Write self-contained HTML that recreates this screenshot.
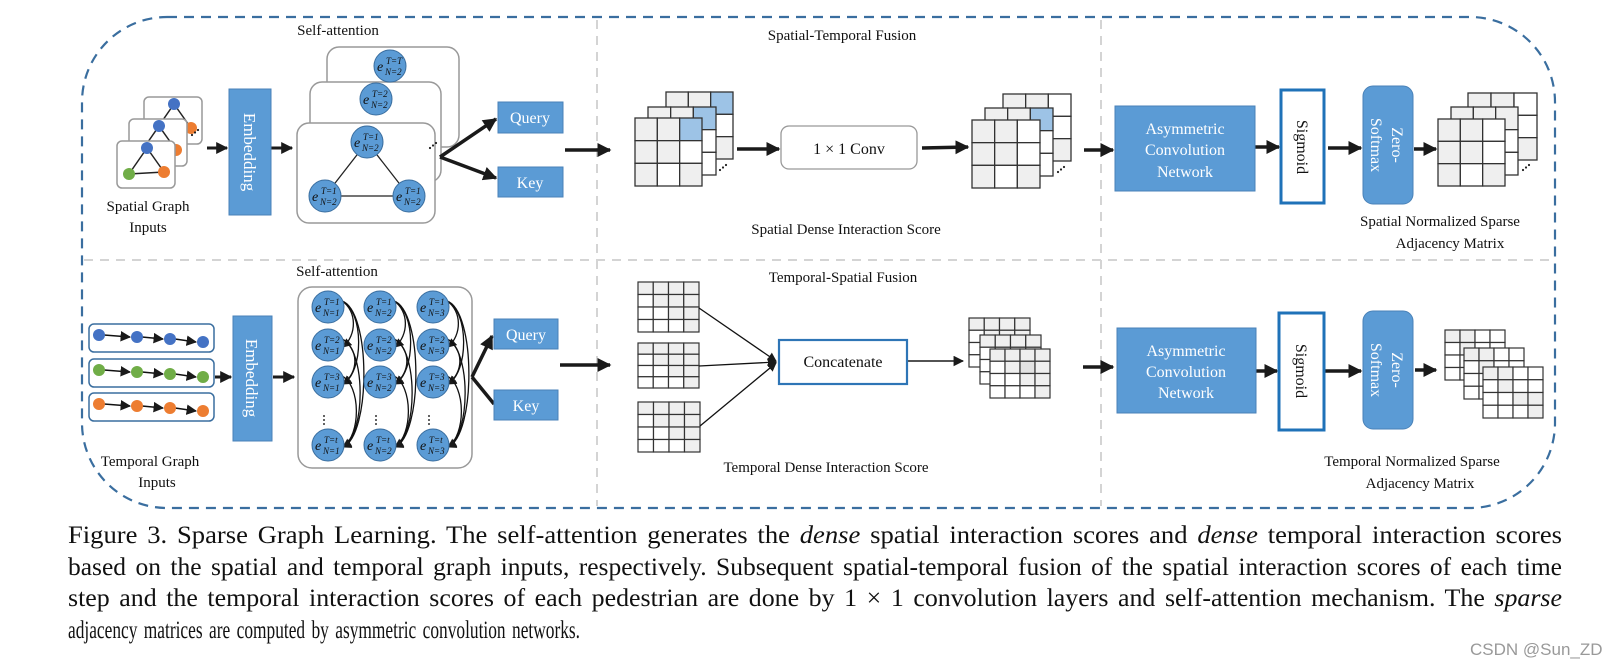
<!DOCTYPE html>
<html><head><meta charset="utf-8"><style>
html,body{margin:0;padding:0;background:#fff;}
svg{display:block;}
text{font-family:"Liberation Serif",serif;fill:#111;}
</style></head><body>
<svg id="s" width="1624" height="669" viewBox="0 0 1624 669" xmlns="http://www.w3.org/2000/svg">
<defs>
<marker id="ah" viewBox="0 0 10 10" refX="9" refY="5" markerWidth="4" markerHeight="4" orient="auto"><path d="M0,0 L10,5 L0,10 z" fill="#1a1a1a"/></marker>
<marker id="ah2" viewBox="0 0 10 10" refX="9" refY="5" markerWidth="7" markerHeight="7" orient="auto"><path d="M0,0 L10,5 L0,10 z" fill="#1a1a1a"/></marker>
</defs>
<rect x="82" y="17" width="1473" height="491" rx="85" fill="none" stroke="#3a6e9f" stroke-width="2.2" stroke-dasharray="10,7"/>
<line x1="84" y1="260" x2="1553" y2="260" stroke="#d4d4d4" stroke-width="2" stroke-dasharray="9,7"/>
<line x1="597" y1="20" x2="597" y2="506" stroke="#d4d4d4" stroke-width="2" stroke-dasharray="9,7"/>
<line x1="1101" y1="20" x2="1101" y2="506" stroke="#d4d4d4" stroke-width="2" stroke-dasharray="9,7"/>

<g id="g"></g>

<g font-size="15">
<text x="338" y="35" text-anchor="middle">Self-attention</text>
<text x="148" y="211" text-anchor="middle">Spatial Graph</text>
<text x="148" y="232" text-anchor="middle">Inputs</text>
<text x="842" y="40" text-anchor="middle">Spatial-Temporal Fusion</text>
<text x="846" y="234" text-anchor="middle">Spatial Dense Interaction Score</text>
<text x="1440" y="226" text-anchor="middle">Spatial Normalized Sparse</text>
<text x="1450" y="248" text-anchor="middle">Adjacency Matrix</text>
<text x="337" y="276" text-anchor="middle">Self-attention</text>
<text x="150" y="466" text-anchor="middle">Temporal Graph</text>
<text x="157" y="487" text-anchor="middle">Inputs</text>
<text x="843" y="282" text-anchor="middle">Temporal-Spatial Fusion</text>
<text x="826" y="472" text-anchor="middle">Temporal Dense Interaction Score</text>
<text x="1412" y="466" text-anchor="middle">Temporal Normalized Sparse</text>
<text x="1420" y="488" text-anchor="middle">Adjacency Matrix</text>
</g>

<rect x="229" y="89" width="42" height="126" fill="#5b9bd5" stroke="#4a82b8"/>
<text transform="translate(244,152) rotate(90)" text-anchor="middle" font-size="17" style="fill:#fff">Embedding</text>
<rect x="233" y="316" width="39" height="125" fill="#5b9bd5" stroke="#4a82b8"/>
<text transform="translate(246,378) rotate(90)" text-anchor="middle" font-size="17" style="fill:#fff">Embedding</text>

<rect x="498" y="102" width="65" height="31" fill="#5b9bd5" stroke="#4a82b8"/>
<text x="530" y="123" text-anchor="middle" font-size="16" style="fill:#fff">Query</text>
<rect x="498" y="167" width="65" height="30" fill="#5b9bd5" stroke="#4a82b8"/>
<text x="530" y="188" text-anchor="middle" font-size="16" style="fill:#fff">Key</text>
<rect x="494" y="319" width="64" height="30" fill="#5b9bd5" stroke="#4a82b8"/>
<text x="526" y="340" text-anchor="middle" font-size="16" style="fill:#fff">Query</text>
<rect x="494" y="390" width="64" height="30" fill="#5b9bd5" stroke="#4a82b8"/>
<text x="526" y="411" text-anchor="middle" font-size="16" style="fill:#fff">Key</text>

<rect x="781" y="126" width="136" height="43" rx="8" fill="#fff" stroke="#999" stroke-width="1.3"/>
<text x="849" y="154" text-anchor="middle" font-size="16">1 × 1 Conv</text>
<rect x="779" y="340" width="128" height="44" fill="#fff" stroke="#2e75b6" stroke-width="2.2"/>
<text x="843" y="367" text-anchor="middle" font-size="16">Concatenate</text>

<rect x="1115" y="106" width="140" height="85" fill="#5b9bd5" stroke="#4a82b8"/>
<g font-size="16" text-anchor="middle"><text x="1185" y="134" style="fill:#fff">Asymmetric</text><text x="1185" y="155" style="fill:#fff">Convolution</text><text x="1185" y="177" style="fill:#fff">Network</text></g>
<rect x="1117" y="328" width="139" height="85" fill="#5b9bd5" stroke="#4a82b8"/>
<g font-size="16" text-anchor="middle"><text x="1186" y="356" style="fill:#fff">Asymmetric</text><text x="1186" y="377" style="fill:#fff">Convolution</text><text x="1186" y="398" style="fill:#fff">Network</text></g>

<rect x="1281" y="90" width="43" height="113" fill="#fff" stroke="#1f72b8" stroke-width="3"/>
<text transform="translate(1297,147) rotate(90)" text-anchor="middle" font-size="16">Sigmoid</text>
<rect x="1279" y="313" width="45" height="117" fill="#fff" stroke="#1f72b8" stroke-width="3"/>
<text transform="translate(1296,371) rotate(90)" text-anchor="middle" font-size="16">Sigmoid</text>

<rect x="1363" y="86" width="50" height="118" rx="10" fill="#5b9bd5" stroke="#4a82b8"/>
<text transform="translate(1392,145) rotate(90)" text-anchor="middle" font-size="16" style="fill:#fff">Zero-</text>
<text transform="translate(1371,145) rotate(90)" text-anchor="middle" font-size="16" style="fill:#fff">Softmax</text>
<rect x="1363" y="311" width="50" height="118" rx="10" fill="#5b9bd5" stroke="#4a82b8"/>
<text transform="translate(1392,370) rotate(90)" text-anchor="middle" font-size="16" style="fill:#fff">Zero-</text>
<text transform="translate(1371,370) rotate(90)" text-anchor="middle" font-size="16" style="fill:#fff">Softmax</text>

<g font-size="25" style="word-spacing:3px">
<text x="68" y="543" textLength="1494" lengthAdjust="spacingAndGlyphs">Figure 3. Sparse Graph Learning. The self-attention generates the <tspan font-style="italic">dense</tspan> spatial interaction scores and <tspan font-style="italic">dense</tspan> temporal interaction scores</text>
<text x="68" y="575" textLength="1494" lengthAdjust="spacingAndGlyphs">based on the spatial and temporal graph inputs, respectively. Subsequent spatial-temporal fusion of the spatial interaction scores of each time</text>
<text x="68" y="606" textLength="1494" lengthAdjust="spacingAndGlyphs">step and the temporal interaction scores of each pedestrian are done by 1 × 1 convolution layers and self-attention mechanism. The <tspan font-style="italic">sparse</tspan></text>
<text x="68" y="638" textLength="512" lengthAdjust="spacingAndGlyphs">adjacency matrices are computed by asymmetric convolution networks.</text>
</g>
<text x="1470" y="655" font-size="17" style="fill:#999;font-family:'Liberation Sans',sans-serif">CSDN @Sun_ZD</text>
</svg>
<script>
var NS="http://www.w3.org/2000/svg",G=document.getElementById('g');
function el(t,a,p){var e=document.createElementNS(NS,t);for(var k in a)e.setAttribute(k,a[k]);(p||G).appendChild(e);return e;}
var C={g:'#efefef',w:'#fff',b:'#9dc3e6',d:'#e2e2e2'};
function grid(x,y,w,h,r,c,f,sw){var cw=w/c,ch=h/r;var rows=f.split('/');
 for(var i=0;i<r;i++)for(var j=0;j<c;j++){var ch_=(rows[i]||'')[j]||'w';el('rect',{x:x+j*cw,y:y+i*ch,width:cw,height:ch,fill:C[ch_],stroke:'#333','stroke-width':sw||1.3});}}
function line(x1,y1,x2,y2,w,m){el('line',{x1:x1,y1:y1,x2:x2,y2:y2,stroke:'#1a1a1a','stroke-width':w||3,'marker-end':m===0?'':'url(#'+(m||'ah')+')'});}
function circ(x,y,r,f){el('circle',{cx:x,cy:y,r:r,fill:f});}
function dots(x,y){for(var i=0;i<3;i++)circ(x+i*3,y-i*2.5,1.1,'#222');}
var cards=[[144,97],[129,119],[117,141]];
cards.forEach(function(c){el('rect',{x:c[0],y:c[1],width:58,height:47,rx:5,fill:'#fff',stroke:'#999','stroke-width':1.5});
 var x=c[0],y=c[1];el('line',{x1:x+30,y1:y+7,x2:x+12,y2:y+33,stroke:'#222','stroke-width':1.5});el('line',{x1:x+30,y1:y+7,x2:x+47,y2:y+31,stroke:'#222','stroke-width':1.5});
 el('line',{x1:x+12,y1:y+33,x2:x+47,y2:y+31,stroke:'#222','stroke-width':1.5});
 circ(x+30,y+7,6,'#4472c4');circ(x+47,y+31,6,'#ed7d31');circ(x+12,y+33,6,'#70ad47');});
dots(192,135);
line(207,148,227,148,3);line(271,148,292,148,3);
[[327,47],[310,82],[297,123]].forEach(function(c,i){el('rect',{x:c[0],y:c[1],width:[132,131,138][i],height:100,rx:12,fill:'#fff',stroke:'#999','stroke-width':1.5});});
dots(430,148);
function enode(x,y,t,n,r){circ(x,y,r||16,'#5b9bd5');el('circle',{cx:x,cy:y,r:r||16,fill:'none',stroke:'#3a6e9f','stroke-width':1});
 var a=el('text',{x:x-13,y:y+5,'font-size':14,'font-style':'italic'});a.textContent='e';
 var b=el('text',{x:x-4,y:y-2,'font-size':9,'font-style':'italic'});b.textContent='T='+t;
 var c=el('text',{x:x-5,y:y+9,'font-size':9,'font-style':'italic'});c.textContent='N='+n;}
enode(390,66,'T',2);enode(376,99,2,2);
el('line',{x1:367,y1:142,x2:325,y2:196,stroke:'#222','stroke-width':1.3});el('line',{x1:367,y1:142,x2:409,y2:196,stroke:'#222','stroke-width':1.3});el('line',{x1:325,y1:196,x2:409,y2:196,stroke:'#222','stroke-width':1.3});
enode(367,142,1,2);enode(325,196,1,2);enode(409,196,1,2);
line(440,157,496,119,3.5);line(440,157,496,178,3.5);
line(565,150,610,150,3.5);
grid(666,92,67,67,3,3,'ggb/ggw/ggg');grid(648,107,68,68,3,3,'ggb/ggw/ggw');grid(635,118,67,68,3,3,'ggb/ggw/gwg');dots(720,170);
line(737,149,779,149,3.5);line(922,148,968,147,3.5);
grid(1003,94,68,67,3,3,'ggw/ggw/ggg');grid(985,108,68,68,3,3,'ggb/ggw/ggw');grid(972,120,68,68,3,3,'ggw/ggw/gwg');dots(1058,172);
line(1084,150,1113,150,3.5);line(1255,147,1279,147,3.5);line(1328,148,1361,148,3.5);line(1414,149,1436,149,3.5);
grid(1468,93,69,67,3,3,'ggw/ggw/ggg');grid(1451,107,67,68,3,3,'ggg/ggw/ggw');grid(1438,119,67,67,3,3,'ggw/ggw/gwg');dots(1523,170);
var cols=['#4472c4','#70ad47','#ed7d31'];
[324,359,393].forEach(function(y,i){el('rect',{x:89,y:y,width:125,height:28,rx:5,fill:'#fff',stroke:'#3a6e9f','stroke-width':1.5});
 var xs=[99,137,170,203],ys=[y+11,y+13,y+15,y+18];
 for(var k=0;k<3;k++){el('line',{x1:xs[k]+5,y1:ys[k],x2:xs[k+1]-7,y2:ys[k+1],stroke:'#111','stroke-width':1.5,'marker-end':'url(#ah2)'});}
 for(var k=0;k<4;k++)circ(xs[k],ys[k],6,cols[i]);});
line(215,377,231,377,3);line(273,377,294,377,3);
el('rect',{x:298,y:287,width:174,height:181,rx:14,fill:'#fff',stroke:'#999','stroke-width':1.5});
var cx=[328,380,433],ry=[307,345,382,445],tl=['1','2','3','t'];
cx.forEach(function(x,ci){
 var pairs=[[0,1],[0,2],[0,3],[1,2],[1,3],[2,3]];
 pairs.forEach(function(p){var y1=ry[p[0]]-6,y2=ry[p[1]]+2;var off=8+(p[1]-p[0])*7+p[0]*2;
  el('path',{d:'M'+(x+14)+','+y1+' C'+(x+14+off)+','+(y1+10)+' '+(x+14+off)+','+(y2-12)+' '+(x+15)+','+y2,fill:'none',stroke:'#111','stroke-width':1.3,'marker-end':'url(#ah2)'});});
 ry.forEach(function(y,ri){enode(x,y,tl[ri],ci+1);});
 for(var d=0;d<3;d++)circ(x-4,416+d*4,1,'#333');});
line(472,377,492,336,3.5);el('line',{x1:472,y1:377,x2:494,y2:404,stroke:'#1a1a1a','stroke-width':3.5});
line(560,365,610,365,3.5);
grid(638,282,61,50,4,4,'gggg/wggg/wwgg/wwwg',1.2);grid(638,343,61,45,4,4,'gggg/wggg/wwgg/wwwg',1.2);grid(638,402,62,50,4,4,'gggg/wggg/wwgg/wwwg',1.2);
el('line',{x1:699,y1:308,x2:776,y2:361,stroke:'#111','stroke-width':1.3,'marker-end':'url(#ah2)'});
el('line',{x1:699,y1:366,x2:776,y2:362,stroke:'#111','stroke-width':1.3,'marker-end':'url(#ah2)'});
el('line',{x1:700,y1:426,x2:776,y2:363,stroke:'#111','stroke-width':1.3,'marker-end':'url(#ah2)'});
line(907,361,963,361,1.5,'ah2');
grid(969,318,61,49,4,4,'gggg/wggg/wwgg/wwwg',1.2);grid(980,335,61,49,4,4,'gggg/wggg/wwgg/wwwg',1.2);grid(990,349,60,49,4,4,'gggg/wgdg/wwgg/wwwg',1.2);
line(1083,367,1113,367,3.5);line(1256,371,1277,371,3.5);line(1324,371,1361,371,3.5);line(1415,370,1436,370,3.5);
grid(1445,330,60,50,4,4,'ggww/wgww/wwgw/wwwg',1.2);grid(1464,348,60,51,4,4,'ggww/wgww/wwgw/wwwg',1.2);grid(1483,367,60,51,4,4,'ggww/wgww/wwgg/wwwg',1.2);
</script>
</body></html>
